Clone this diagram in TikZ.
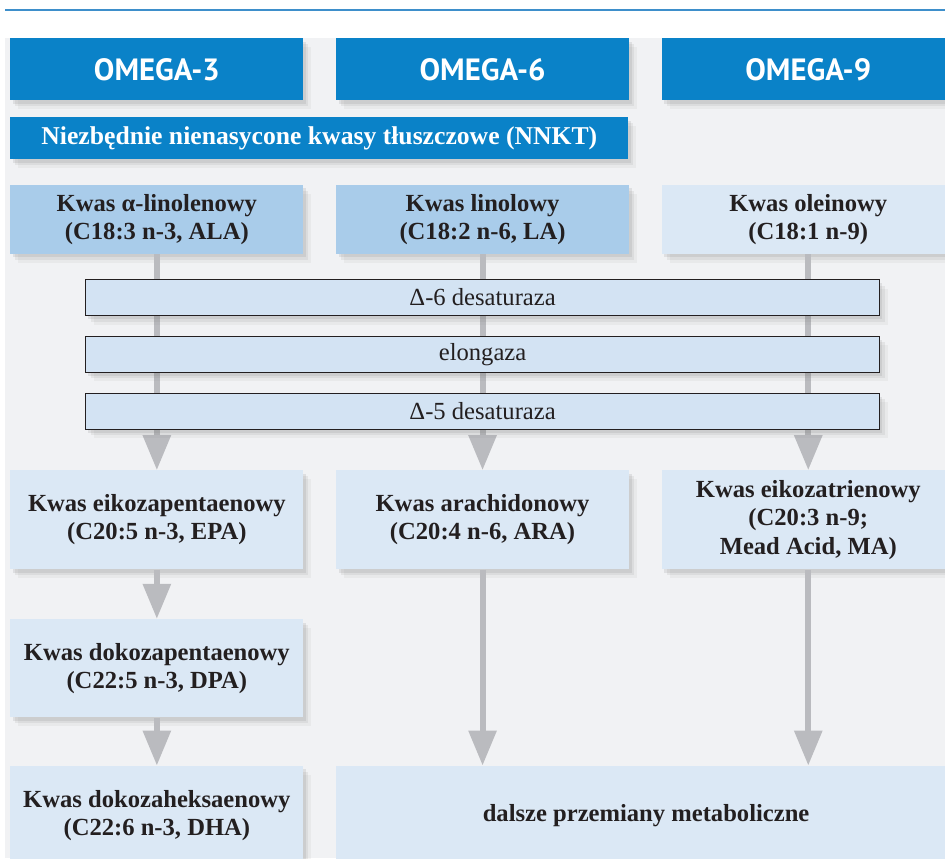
\documentclass[tikz,border=0pt]{standalone}
\usepackage{fontspec}
\setmainfont{Liberation Serif}
\newfontfamily\headfont{PT Sans}
\usepackage{tikz}
\usetikzlibrary{arrows.meta,positioning,shadows}
\definecolor{ink}{HTML}{231F20}
\definecolor{omegablue}{HTML}{0A82C8}
\definecolor{ruleblue}{HTML}{3E8FCB}
\definecolor{acidmid}{HTML}{A9CCEA}
\definecolor{acidpale}{HTML}{DBE8F5}
\definecolor{enzfill}{HTML}{D3E3F3}
\definecolor{flowgray}{HTML}{BABBBF}
\definecolor{panelgray}{HTML}{F1F2F4}
\tikzset{
  boxshadow/.style={drop shadow={shadow xshift=1.6mm,shadow yshift=-1.8mm,opacity=0.08},
    drop shadow={shadow xshift=1.0mm,shadow yshift=-1.2mm,opacity=0.12},
    drop shadow={shadow xshift=0.5mm,shadow yshift=-0.7mm,opacity=0.16}},
  omegabox/.style={rectangle,fill=omegablue,text=white,
    font=\headfont\bfseries\fontsize{17.5}{20}\selectfont,
    minimum width=58.6mm,minimum height=12.4mm,inner sep=0pt,boxshadow},
  acidbox/.style={rectangle,fill=acidpale,text=ink,align=center,
    font=\bfseries\fontsize{14}{16}\selectfont,
    minimum width=58.6mm,inner sep=0pt,boxshadow},
  enzbox/.style={rectangle,draw=ink,line width=0.5pt,fill=enzfill,text=ink,
    font=\fontsize{14}{16}\selectfont,
    minimum width=158.8mm,minimum height=7.2mm,inner sep=0pt,boxshadow},
  flowarr/.style={-{Triangle[width=5.4mm,length=7mm]},line width=1.2mm,color=flowgray},
}

\begin{document}
\begin{tikzpicture}[x=0.2mm,y=-0.2mm]
  \useasboundingbox (0,0) rectangle (945,858);
  \clip (0,0) rectangle (945,858);
  \fill[panelgray] (5,38) rectangle (945,858);
  \draw[ruleblue,line width=0.4mm] (5,10) -- (945,10);

  \node[omegabox,anchor=north west] (o3) at (10,38) {OMEGA-3};
  \node[omegabox,right=6.4mm of o3] (o6) {OMEGA-6};
  \node[omegabox,right=6.4mm of o6] (o9) {OMEGA-9};
  \node[omegabox,font=\bfseries\fontsize{14.6}{16}\selectfont,minimum width=123.6mm,
    minimum height=8.4mm,below=3.2mm of o3.south west,anchor=north west] (nnkt)
    {Niezbędnie nienasycone kwasy tłuszczowe (NNKT)};

  \node[acidbox,fill=acidmid,minimum height=13.8mm,below=5mm of nnkt.south west,
    anchor=north west] (ala) {Kwas α-linolenowy\\(C18:3 n-3, ALA)};
  \node[acidbox,fill=acidmid,minimum height=13.8mm,right=6.4mm of ala] (la)
    {Kwas linolowy\\(C18:2 n-6, LA)};
  \node[acidbox,minimum height=13.8mm,right=6.4mm of la] (ola)
    {Kwas oleinowy\\(C18:1 n-9)};

  \node[acidbox,minimum height=19.8mm,below=43.2mm of ala] (epa)
    {Kwas eikozapentaenowy\\(C20:5 n-3, EPA)};
  \node[acidbox,minimum height=19.8mm,right=6.4mm of epa] (ara)
    {Kwas arachidonowy\\(C20:4 n-6, ARA)};
  \node[acidbox,minimum height=19.8mm,right=6.4mm of ara] (mead)
    {Kwas eikozatrienowy\\(C20:3 n-9;\\Mead Acid, MA)};
  \node[acidbox,minimum height=19.6mm,below=9.8mm of epa] (dpa)
    {Kwas dokozapentaenowy\\(C22:5 n-3, DPA)};
  \node[acidbox,minimum height=19.8mm,below=9.6mm of dpa] (dha)
    {Kwas dokozaheksaenowy\\(C22:6 n-3, DHA)};
  \node[acidbox,minimum width=124mm,minimum height=19.8mm,
    right=6.4mm of dha.north east,anchor=north west] (dalej)
    {dalsze przemiany metaboliczne};

  \draw[flowarr] (ala) -- (epa);
  \draw[flowarr] (la) -- (ara);
  \draw[flowarr] (ola) -- (mead);
  \draw[flowarr] (epa) -- (dpa);
  \draw[flowarr] (dpa) -- (dha);
  \draw[flowarr] (ara) -- (ara |- dalej.north);
  \draw[flowarr] (mead) -- (mead |- dalej.north);

  \node[enzbox,below=5mm of la] (d6) {Δ-6 desaturaza};
  \node[enzbox,below=4mm of d6] (elo) {elongaza};
  \node[enzbox,below=4mm of elo] (d5) {Δ-5 desaturaza};
\end{tikzpicture}
\end{document}
